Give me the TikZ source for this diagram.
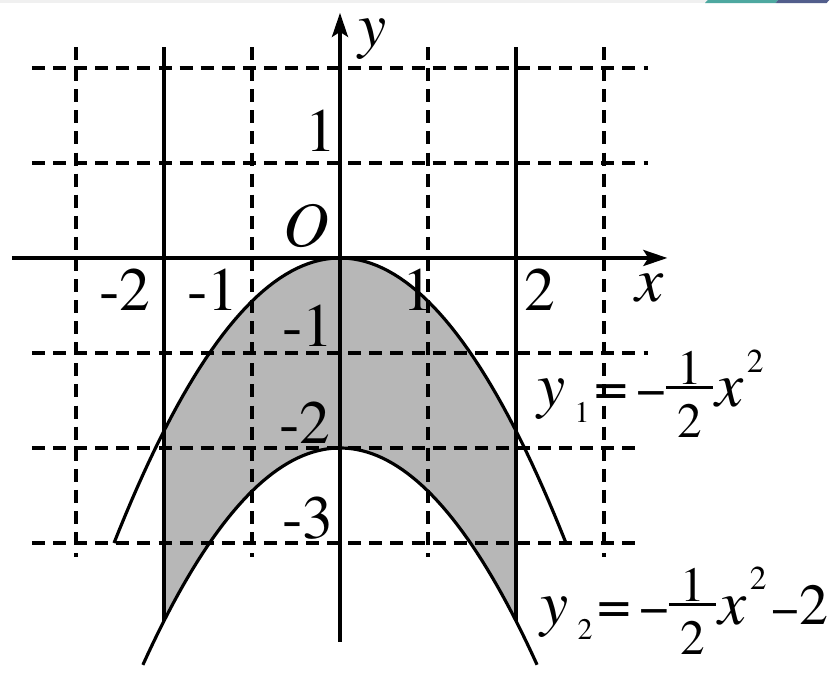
\documentclass[tikz,border=0pt]{standalone}
\usepackage{fontspec}
\setmainfont{texgyretermes}[Extension=.otf, UprightFont=*-regular, ItalicFont=*-italic, BoldFont=*-bold, BoldItalicFont=*-bolditalic]
\usetikzlibrary{arrows.meta}
\definecolor{areaGray}{RGB}{183,183,183}
\definecolor{barGray}{RGB}{240,240,240}
\definecolor{barTeal}{RGB}{78,168,160}
\definecolor{barBlue}{RGB}{82,94,140}
\newcommand\eqpart[2]{\mbox{\fontsize{#1}{#1}\selectfont #2}}
\newcommand\halffrac{\makebox[13.4pt]{\raisebox{6.3pt}{\eqpart{14}{1}}}\llap{\rule[5pt]{13.4pt}{0.85pt}}\llap{\makebox[13.4pt]{\raisebox{-8.8pt}{\eqpart{14}{2}}}}}

\begin{document}
\begin{tikzpicture}[
    x=0.88cm, y=0.95cm,
    grid/.style={line width=1pt, dash pattern=on 3.7pt off 2.3pt},
    wall/.style={line width=1pt},
    axis/.style={line width=1pt, -{Stealth[length=0.24cm, width=0.16cm, inset=0.05cm]}},
    curve/.style={line width=0.9pt},
    lbl/.style={inner sep=0pt, font=\fontsize{17.5}{20}\selectfont},
    var/.style={inner sep=0pt, font=\fontsize{18}{20}\selectfont\itshape},
    eq/.style={inner sep=0pt, anchor=base west}
]
\useasboundingbox (-3.8636,-4.4632) rectangle (5.6023,2.7158);

% strip along the top edge
\fill[barGray] (-3.8636,2.684) rectangle (4.17,2.7158);
\fill[barTeal] (4.148,2.684) -- (4.18,2.7158) -- (4.98,2.7158) -- (4.95,2.684) -- cycle;
\fill[barBlue] (4.95,2.684) -- (4.98,2.7158) -- (5.56,2.7158) -- (5.53,2.684) -- cycle;

% region between the two parabolas
\fill[areaGray] plot[domain=-2:2, samples=60] (\x,{-0.455*\x*\x})
    -- plot[domain=2:-2, samples=60] (\x,{-0.455*\x*\x-2}) -- cycle;

% grid
\foreach \gy in {2,1,-1} \draw[grid] (-3.5,\gy) -- (3.5,\gy);
\foreach \gy in {-2,-3} \draw[grid] (-3.5,\gy) -- (3.39,\gy);
\foreach \gx in {-3,-1,1,3} \draw[grid] (\gx,2.22) -- (\gx,-3.15);
\foreach \gx in {-2,2} \draw[wall] (\gx,2.22) -- (\gx,{-0.455*\gx*\gx-2});

% parabolas
\draw[curve] plot[domain=-2.568:2.568, samples=80] (\x,{-0.455*\x*\x});
\draw[curve] plot[domain=-2.24:2.24, samples=80] (\x,{-0.455*\x*\x-2});

% axes
\coordinate (xstart) at (-3.73,0);
\coordinate (xend)   at (3.72,0);
\coordinate (ystart) at (0,-4.04);
\coordinate (yend)   at (0,2.58);
\draw[axis] (xstart) -- (xend);
\draw[axis] (ystart) -- (yend);

\node[var] (ylab) at (0.375,2.30) {y};
\node[var] (xlab) at (3.523,-0.316) {x};
\node[var] (orig) at (-0.386,0.337) {O};

\node[lbl] (xm2) at (-2.443,-0.337) {-2};
\node[lbl] (xm1) at (-1.443,-0.337) {-1};
\node[lbl] (xp1) at (0.886,-0.337)  {1};
\node[lbl] (xp2) at (2.273,-0.337)  {2};

\node[lbl] (yp1) at (-0.216,1.337)  {1};
\node[lbl] (ym1) at (-0.364,-0.716) {-1};
\node[lbl] (ym2) at (-0.398,-1.737) {-2};
\node[lbl] (ym3) at (-0.364,-2.737) {-3};

\node[eq] (eqone) at (2.239,-1.568) {\eqpart{18}{\itshape y}\hspace{2.5pt}\raisebox{-4.5pt}{\eqpart{8.5}{1}}\hspace{1.5pt}\eqpart{17}{=}\hspace{2.2pt}\eqpart{15}{−}\halffrac\hspace{0.8pt}\eqpart{18}{\itshape x}\hspace{0.8pt}\raisebox{9.7pt}{\eqpart{9.5}{2}}};
\node[eq] (eqtwo) at (2.273,-3.853) {\eqpart{18}{\itshape y}\hspace{2.5pt}\raisebox{-4.5pt}{\eqpart{8.5}{2}}\hspace{1.5pt}\eqpart{17}{=}\hspace{2.2pt}\eqpart{15}{−}\halffrac\hspace{0.8pt}\eqpart{18}{\itshape x}\hspace{0.8pt}\raisebox{9.7pt}{\eqpart{9.5}{2}}\hspace{1.5pt}\eqpart{14}{−}\eqpart{16.5}{2}};
\end{tikzpicture}
\end{document}
